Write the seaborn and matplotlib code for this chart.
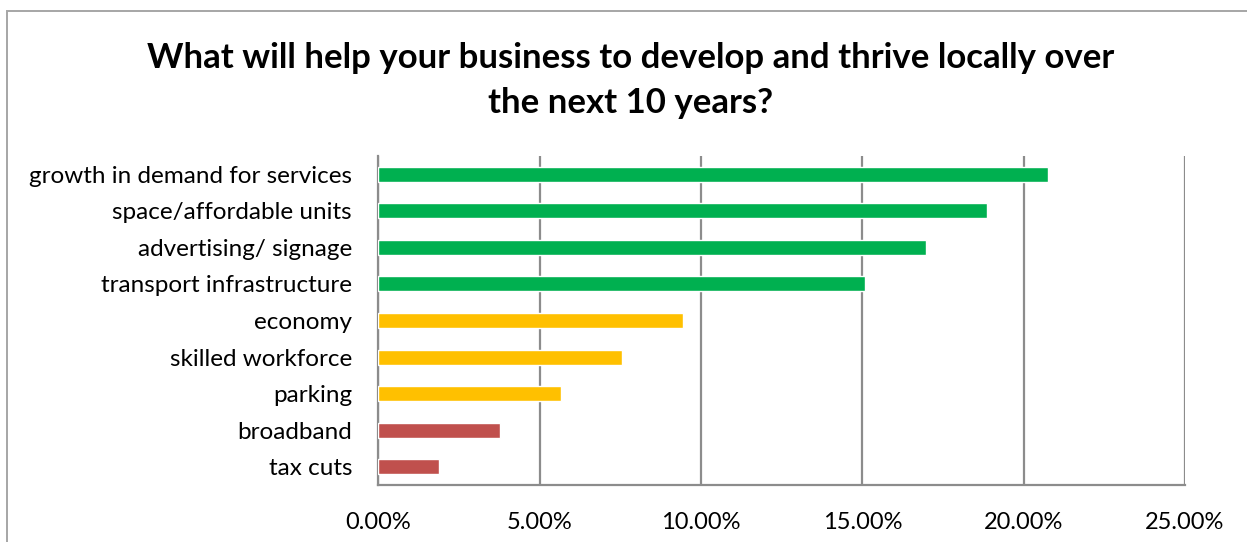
import matplotlib
matplotlib.use("Agg")
import matplotlib.pyplot as plt
from matplotlib.patches import Rectangle
from matplotlib.ticker import FuncFormatter
import seaborn as sns
import pandas as pd

categories = [
    "growth in demand for services",
    "space/affordable units",
    "advertising/ signage",
    "transport infrastructure",
    "economy",
    "skilled workforce",
    "parking",
    "broadband",
    "tax cuts",
]
shares = [20.75, 18.87, 16.98, 15.09, 9.43, 7.55, 5.66, 3.77, 1.89]
tiers = ["high", "high", "high", "high", "mid", "mid", "mid", "low", "low"]
tier_colors = {"high": "#00B050", "mid": "#FFC000", "low": "#C0504D"}
x_ticks = [0, 5, 10, 15, 20, 25]

df = pd.DataFrame({"factor": categories, "share": shares, "tier": tiers})

sns.set_theme(style="white")
plt.rcParams["font.family"] = ["Lato", "DejaVu Sans"]

fig = plt.figure(figsize=(12.47, 5.42), dpi=100)
ax = fig.add_axes([0.3035, 0.1052, 0.6468, 0.607])

sns.barplot(
    data=df, x="share", y="factor", hue="tier", palette=tier_colors,
    order=categories, hue_order=["high", "mid", "low"],
    dodge=False, width=0.41, legend=False, ax=ax, saturation=1,
)

ax.set_xlim(0, 25)
ax.set_ylim(len(categories) - 0.5, -0.5)
ax.set_xticks(x_ticks)
ax.xaxis.set_major_formatter(FuncFormatter(lambda v, _: f"{v:.2f}%"))
ax.set_xlabel("")
ax.set_ylabel("")

grid_color = "#8c8c8c"
ax.grid(axis="x", color=grid_color, linewidth=1.6)
ax.grid(axis="y", visible=False)
ax.set_axisbelow(True)
for side in ["top", "right"]:
    ax.spines[side].set_visible(False)
ax.spines["left"].set_color(grid_color)
ax.spines["left"].set_linewidth(1.6)
ax.spines["bottom"].set_color(grid_color)
ax.spines["bottom"].set_linewidth(1.6)
ax.spines["left"].set_zorder(0.5)

ax.tick_params(axis="x", length=0, pad=19.5, labelsize=17, colors="#000000")
ax.tick_params(axis="y", length=0, pad=19, labelsize=17.5, colors="#000000")

fig.text(
    0.506, 0.852,
    "What will help your business to develop and thrive locally over\nthe next 10 years?",
    ha="center", va="center", fontsize=25, fontweight="bold",
    color="#000000", linespacing=1.5,
)

frame = Rectangle(
    (7 / 1247, -0.05), 1.2, 0.05 + (542 - 11) / 542,
    transform=fig.transFigure, fill=False, edgecolor="#a6a6a6",
    linewidth=1.4, zorder=0,
)
fig.patches.append(frame)

fig.savefig("out.png", dpi=100, facecolor="white")
